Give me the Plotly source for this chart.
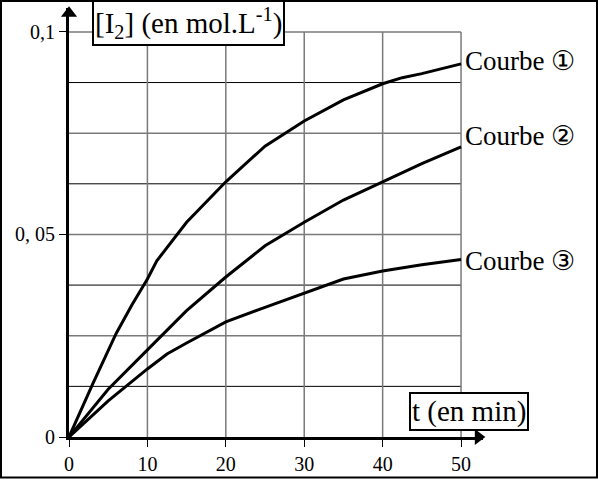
import plotly.graph_objects as go

# ---- data ----
t1 = [0, 3, 6, 8, 10, 11.2, 15, 20, 25, 30, 35, 40, 42.5, 45, 50]
c1 = [0, 0.013, 0.0255, 0.0325, 0.039, 0.0435, 0.053, 0.063, 0.0718, 0.078, 0.0832, 0.0872, 0.0887, 0.0897, 0.0921]
t2 = [0, 5, 10, 15, 20, 25, 30, 35, 40, 45, 50]
c2 = [0, 0.0118, 0.0215, 0.0312, 0.0395, 0.0472, 0.053, 0.0585, 0.063, 0.0675, 0.0716]
t3 = [0, 5, 10, 12.5, 15, 20, 25, 30, 35, 40, 45, 50]
c3 = [0, 0.0089, 0.0168, 0.0205, 0.0232, 0.0284, 0.032, 0.0355, 0.039, 0.041, 0.0425, 0.0438]
curve_names = ["Courbe \u2460", "Courbe \u2461", "Courbe \u2462"]
label_y = [0.0927, 0.0743, 0.0435]

x_ticks = [0, 10, 20, 30, 40, 50]
y_ticks = [0, 0.05, 0.1]
y_ticktext = ["0", "0, 05", "0,1"]
grey_h = [0.025, 0.05, 0.075, 0.1]
black_h = [0.0125, 0.0375, 0.0625, 0.0875]
grey_v = [10, 20, 30, 40, 50]

W, H = 598, 483
ML, MR, MT, MB = 69, 115, 8, 42
XMAX, YMAX = 52.8, 0.1059
FONT = "Liberation Serif"

fig = go.Figure()
for t, c in [(t1, c1), (t2, c2), (t3, c3)]:
    fig.add_trace(go.Scatter(x=t, y=c, mode="lines", line=dict(color="black", width=3),
                             showlegend=False, hoverinfo="skip"))

# arrow heads on axes
fig.add_trace(go.Scatter(x=[52.2], y=[0], mode="markers", cliponaxis=False,
                         marker=dict(symbol="triangle-right", size=14, color="black"),
                         showlegend=False, hoverinfo="skip"))
fig.add_trace(go.Scatter(x=[0], y=[0.1046], mode="markers", cliponaxis=False,
                         marker=dict(symbol="triangle-up", size=14, color="black"),
                         showlegend=False, hoverinfo="skip"))

shapes = []
for v in grey_h:
    shapes.append(dict(type="line", xref="x", yref="y", x0=0, x1=50, y0=v, y1=v,
                       line=dict(color="#7a7a7a", width=1.5), layer="below"))
for v in black_h:
    shapes.append(dict(type="line", xref="x", yref="y", x0=0, x1=50, y0=v, y1=v,
                       line=dict(color="black", width=1), layer="below"))
for v in grey_v:
    shapes.append(dict(type="line", xref="x", yref="y", x0=v, x1=v, y0=0, y1=0.1,
                       line=dict(color="#7a7a7a", width=1.5), layer="below"))
# frame around the whole picture
pw = W - ML - MR
ph = H - MT - MB
shapes.append(dict(type="rect", xref="paper", yref="paper",
                   x0=(1 - ML) / pw, x1=(W - ML - 1) / pw,
                   y0=(-MB + 1) / ph, y1=(H - MB - 1) / ph,
                   line=dict(color="black", width=2), fillcolor="rgba(0,0,0,0)"))

annotations = []
for name, ly in zip(curve_names, label_y):
    annotations.append(dict(x=50, y=ly, xref="x", yref="y", text=name, showarrow=False,
                            xanchor="left", xshift=2, font=dict(family=FONT, size=27, color="black")))
annotations.append(dict(x=15.2, y=0.1023, xref="x", yref="y",
                        text="[I<sub>2</sub>] (en mol.L<sup>-1</sup>)", showarrow=False,
                        bgcolor="white", bordercolor="black", borderwidth=2, borderpad=1,
                        font=dict(family=FONT, size=29, color="black")))
annotations.append(dict(x=51.0, y=0.0064, xref="x", yref="y", text="t (en min)", showarrow=False,
                        bgcolor="white", bordercolor="black", borderwidth=2, borderpad=1,
                        font=dict(family=FONT, size=29, color="black")))

fig.update_layout(
    width=W, height=H, margin=dict(l=ML, r=MR, t=MT, b=MB),
    paper_bgcolor="white", plot_bgcolor="white",
    shapes=shapes, annotations=annotations,
    font=dict(family=FONT, size=20, color="black"),
    xaxis=dict(range=[0, XMAX], tickvals=x_ticks, ticks="outside", ticklen=7, tickwidth=1,
               tickcolor="black", showline=True, linewidth=3, linecolor="black",
               showgrid=False, zeroline=False, tickfont=dict(family=FONT, size=20)),
    yaxis=dict(range=[0, YMAX], tickvals=y_ticks, ticktext=y_ticktext, ticks="outside",
               ticklen=7, tickwidth=1, tickcolor="black", showline=True, linewidth=3,
               linecolor="black", showgrid=False, zeroline=False,
               tickfont=dict(family=FONT, size=20)),
)

fig.write_html("out.html")
